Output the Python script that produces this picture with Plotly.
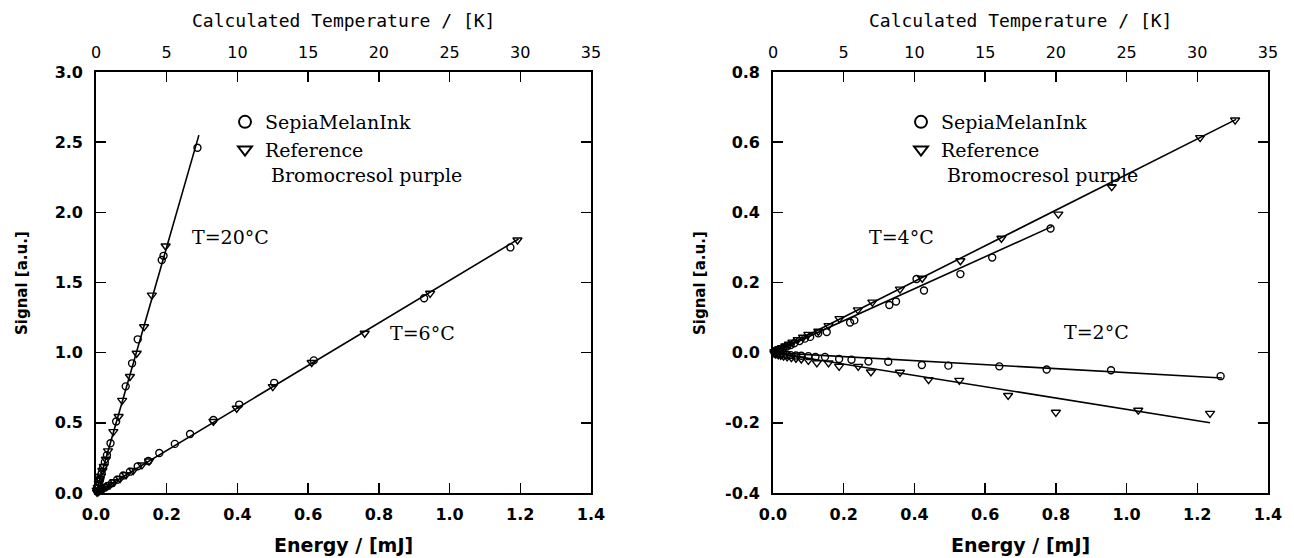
import plotly.graph_objects as go

# ---------------- data ----------------
# Left panel, T = 20 °C
l20_sepia_x = [0.003, 0.006, 0.009, 0.012, 0.016, 0.020, 0.025, 0.031, 0.041, 0.057, 0.084, 0.102, 0.118, 0.186, 0.191, 0.287]
l20_sepia_y = [0.03, 0.05, 0.08, 0.10, 0.14, 0.18, 0.22, 0.27, 0.354, 0.51, 0.76, 0.924, 1.095, 1.66, 1.69, 2.46]
l20_ref_x = [0.002, 0.005, 0.008, 0.011, 0.014, 0.018, 0.022, 0.028, 0.034, 0.049, 0.064, 0.074, 0.096, 0.115, 0.136, 0.158, 0.197]
l20_ref_y = [0.02, 0.04, 0.07, 0.10, 0.12, 0.16, 0.19, 0.24, 0.30, 0.437, 0.545, 0.66, 0.83, 0.996, 1.185, 1.41, 1.76]
l20_fit_x = [0.0, 0.291]
l20_fit_y = [0.0, 2.55]

# Left panel, T = 6 °C
l6_sepia_x = [0.004, 0.008, 0.013, 0.018, 0.025, 0.033, 0.045, 0.060, 0.077, 0.096, 0.118, 0.148, 0.179, 0.223, 0.266, 0.332, 0.405, 0.504, 0.616, 0.928, 1.172]
l6_sepia_y = [0.01, 0.015, 0.025, 0.03, 0.04, 0.05, 0.07, 0.095, 0.125, 0.152, 0.19, 0.228, 0.285, 0.35, 0.42, 0.52, 0.63, 0.785, 0.945, 1.388, 1.75]
l6_ref_x = [0.003, 0.007, 0.011, 0.016, 0.022, 0.030, 0.040, 0.052, 0.068, 0.085, 0.105, 0.130, 0.150, 0.332, 0.398, 0.500, 0.610, 0.760, 0.945, 1.192]
l6_ref_y = [0.005, 0.01, 0.018, 0.025, 0.033, 0.045, 0.06, 0.08, 0.103, 0.13, 0.16, 0.2, 0.228, 0.51, 0.604, 0.758, 0.93, 1.138, 1.423, 1.803]
l6_fit_x = [0.0, 1.195]
l6_fit_y = [0.0, 1.81]

# Right panel, T = 4 °C
r4_sepia_x = [0.005, 0.010, 0.015, 0.020, 0.030, 0.040, 0.050, 0.060, 0.075, 0.090, 0.105, 0.128, 0.152, 0.218, 0.230, 0.329, 0.348, 0.406, 0.427, 0.530, 0.620, 0.785]
r4_sepia_y = [0.004, 0.006, 0.008, 0.010, 0.014, 0.018, 0.022, 0.027, 0.033, 0.040, 0.045, 0.055, 0.059, 0.086, 0.092, 0.136, 0.146, 0.210, 0.177, 0.224, 0.271, 0.354]
r4_ref_x = [0.004, 0.008, 0.013, 0.018, 0.025, 0.035, 0.045, 0.055, 0.070, 0.085, 0.100, 0.128, 0.157, 0.188, 0.240, 0.281, 0.359, 0.422, 0.530, 0.646, 0.807, 0.958, 1.208, 1.307]
r4_ref_y = [0.003, 0.005, 0.008, 0.011, 0.014, 0.019, 0.024, 0.030, 0.037, 0.044, 0.052, 0.061, 0.077, 0.097, 0.122, 0.144, 0.181, 0.212, 0.262, 0.326, 0.395, 0.473, 0.613, 0.663]
r4_sepia_fit_x = [0.0, 0.79]
r4_sepia_fit_y = [0.0, 0.36]
r4_ref_fit_x = [0.0, 1.31]
r4_ref_fit_y = [0.0, 0.665]

# Right panel, T = 2 °C
r2_sepia_x = [0.005, 0.010, 0.020, 0.030, 0.040, 0.050, 0.065, 0.080, 0.100, 0.120, 0.147, 0.187, 0.222, 0.270, 0.326, 0.421, 0.496, 0.640, 0.774, 0.956, 1.266]
r2_sepia_y = [-0.002, -0.003, -0.004, -0.005, -0.006, -0.007, -0.008, -0.009, -0.010, -0.012, -0.012, -0.018, -0.020, -0.025, -0.026, -0.035, -0.037, -0.039, -0.048, -0.050, -0.067]
r2_ref_x = [0.004, 0.008, 0.015, 0.022, 0.030, 0.040, 0.052, 0.065, 0.080, 0.100, 0.124, 0.157, 0.187, 0.241, 0.277, 0.359, 0.440, 0.527, 0.665, 0.800, 1.033, 1.236]
r2_ref_y = [-0.002, -0.004, -0.006, -0.008, -0.010, -0.012, -0.014, -0.016, -0.018, -0.022, -0.029, -0.029, -0.039, -0.039, -0.055, -0.056, -0.077, -0.079, -0.122, -0.170, -0.164, -0.173]
r2_sepia_fit_x = [0.0, 1.27]
r2_sepia_fit_y = [0.0, -0.072]
r2_ref_fit_x = [0.0, 1.236]
r2_ref_fit_y = [0.0, -0.20]

# ticks
energy_ticks = [0.0, 0.2, 0.4, 0.6, 0.8, 1.0, 1.2, 1.4]
energy_labels = ["0.0", "0.2", "0.4", "0.6", "0.8", "1.0", "1.2", "1.4"]
temp_ticks = [0, 5, 10, 15, 20, 25, 30, 35]
temp_labels = ["0", "5", "10", "15", "20", "25", "30", "35"]
left_y_ticks = [0.0, 0.5, 1.0, 1.5, 2.0, 2.5, 3.0]
left_y_labels = ["0.0", "0.5", "1.0", "1.5", "2.0", "2.5", "3.0"]
right_y_ticks = [-0.4, -0.2, 0.0, 0.2, 0.4, 0.6, 0.8]
right_y_labels = ["-0.4", "-0.2", "0.0", "0.2", "0.4", "0.6", "0.8"]

name_sepia = "SepiaMelanInk"
name_ref = "Reference<br>\u00a0Bromocresol purple"

# ---------------- figure ----------------
W, H = 1294, 558
BLACK = "black"
SERIF = "DejaVu Serif"
SANS = "DejaVu Sans"
MONO = "DejaVu Sans Mono"

circle = dict(symbol="circle-open", size=7, color=BLACK, line=dict(width=1.4, color=BLACK))
tri = dict(symbol="triangle-down-open", size=8, color=BLACK, line=dict(width=1.4, color=BLACK))
fit_line = dict(color=BLACK, width=1.6)

fig = go.Figure()


def add_pts(x, y, xa, ya, marker, name, show, legend):
    fig.add_trace(go.Scatter(x=x, y=y, mode="markers", marker=marker, name=name,
                             showlegend=show, legend=legend, xaxis=xa, yaxis=ya,
                             cliponaxis=False))


def add_fit(x, y, xa, ya):
    fig.add_trace(go.Scatter(x=x, y=y, mode="lines", line=fit_line, showlegend=False,
                             xaxis=xa, yaxis=ya, cliponaxis=False, hoverinfo="skip"))


# left panel
add_fit(l20_fit_x, l20_fit_y, "x", "y")
add_fit(l6_fit_x, l6_fit_y, "x", "y")
add_pts(l20_sepia_x, l20_sepia_y, "x", "y", circle, name_sepia, True, "legend")
add_pts(l20_ref_x, l20_ref_y, "x", "y", tri, name_ref, True, "legend")
add_pts(l6_sepia_x, l6_sepia_y, "x", "y", circle, name_sepia, False, "legend")
add_pts(l6_ref_x, l6_ref_y, "x", "y", tri, name_ref, False, "legend")

# right panel
add_fit(r4_sepia_fit_x, r4_sepia_fit_y, "x2", "y2")
add_fit(r4_ref_fit_x, r4_ref_fit_y, "x2", "y2")
add_fit(r2_sepia_fit_x, r2_sepia_fit_y, "x2", "y2")
add_fit(r2_ref_fit_x, r2_ref_fit_y, "x2", "y2")
add_pts(r4_sepia_x, r4_sepia_y, "x2", "y2", circle, name_sepia, True, "legend2")
add_pts(r4_ref_x, r4_ref_y, "x2", "y2", tri, name_ref, True, "legend2")
add_pts(r2_sepia_x, r2_sepia_y, "x2", "y2", circle, name_sepia, False, "legend2")
add_pts(r2_ref_x, r2_ref_y, "x2", "y2", tri, name_ref, False, "legend2")

# helper traces so the top temperature axes exist
for xa, ya in (("x3", "y"), ("x4", "y2")):
    fig.add_trace(go.Scatter(x=temp_ticks, y=[None] * len(temp_ticks), mode="markers",
                             showlegend=False, xaxis=xa, yaxis=ya, hoverinfo="skip"))

# geometry (pixels -> paper)
L_x0, L_x1 = 96, 591
R_x0, R_x1 = 773, 1268
Y_top, Y_bot = 72, 493
dom_left = [L_x0 / W, L_x1 / W]
dom_right = [R_x0 / W, R_x1 / W]
dom_y = [1 - Y_bot / H, 1 - Y_top / H]

tickfont = dict(family=SANS, size=16, color=BLACK, weight="bold")
topfont = dict(family=SANS, size=16, color=BLACK)

common_ax = dict(showgrid=False, zeroline=False, showline=True, linecolor=BLACK, linewidth=1.8,
                 ticks="inside", ticklen=10, tickwidth=1.5, tickcolor=BLACK, automargin=False)

xbottom = dict(common_ax, range=[0, 1.4], tickvals=energy_ticks, ticktext=energy_labels,
               tickfont=tickfont, mirror=True, ticklabelstandoff=6)
xtop = dict(common_ax, range=[0, 35], tickvals=temp_ticks, ticktext=temp_labels,
            tickfont=topfont, side="top", ticklabelstandoff=6)

legend_common = dict(xanchor="left", yanchor="top",
                     font=dict(family=SERIF, size=19, color=BLACK), bgcolor="rgba(0,0,0,0)",
                     valign="top", tracegroupgap=0, itemsizing="constant")

fig.update_layout(
    width=W, height=H,
    margin=dict(l=0, r=0, t=0, b=0, autoexpand=False),
    paper_bgcolor="white", plot_bgcolor="white",
    showlegend=True,
    hovermode=False,
    xaxis=dict(xbottom, domain=dom_left, anchor="y"),
    xaxis2=dict(xbottom, domain=dom_right, anchor="y2"),
    xaxis3=dict(xtop, overlaying="x", anchor="y"),
    xaxis4=dict(xtop, overlaying="x2", anchor="y2"),
    yaxis=dict(common_ax, domain=dom_y, anchor="x", range=[0, 3], tickvals=left_y_ticks,
               ticktext=left_y_labels, tickfont=tickfont, mirror="ticks", ticklabelstandoff=8),
    yaxis2=dict(common_ax, domain=dom_y, anchor="x2", range=[-0.4, 0.8], tickvals=right_y_ticks,
                ticktext=right_y_labels, tickfont=tickfont, mirror="ticks", ticklabelstandoff=8),
    legend=dict(legend_common, x=225 / W, y=1 - 103 / H),
    legend2=dict(legend_common, x=901 / W, y=1 - 103 / H),
)

ann = []
title_font = dict(family=MONO, size=18, color=BLACK)
bold_font = dict(family=SANS, size=19, color=BLACK, weight="bold")
for cx in ((L_x0 + L_x1) / 2, (R_x0 + R_x1) / 2):
    ann.append(dict(text="Calculated Temperature / [K]", x=cx / W, y=1 - 20 / H, xref="paper", yref="paper",
                    showarrow=False, font=title_font, xanchor="center", yanchor="middle"))
    ann.append(dict(text="Energy / [mJ]", x=cx / W, y=1 - 545 / H, xref="paper", yref="paper",
                    showarrow=False, font=bold_font, xanchor="center", yanchor="middle"))
for sx in (22, 700):
    ann.append(dict(text="Signal [a.u.]", x=sx / W, y=1 - 283 / H, xref="paper", yref="paper",
                    showarrow=False, font=dict(family=SANS, size=15, color=BLACK, weight="bold"),
                    textangle=-90, xanchor="center", yanchor="middle"))

tfont = dict(family=SERIF, size=19, color=BLACK)
ann.append(dict(text="T=20°C", x=0.266, y=1.825, xref="x", yref="y", showarrow=False,
                font=tfont, xanchor="left", yanchor="middle"))
ann.append(dict(text="T=6°C", x=0.826, y=1.14, xref="x", yref="y", showarrow=False,
                font=tfont, xanchor="left", yanchor="middle"))
ann.append(dict(text="T=4°C", x=0.265, y=0.331, xref="x2", yref="y2", showarrow=False,
                font=tfont, xanchor="left", yanchor="middle"))
ann.append(dict(text="T=2°C", x=0.817, y=0.058, xref="x2", yref="y2", showarrow=False,
                font=tfont, xanchor="left", yanchor="middle"))
fig.update_layout(annotations=ann)

# remove the default 8px page margin so the figure fills the window exactly
fig.write_html("out.html", config={"displayModeBar": False, "staticPlot": True},
               post_script="document.body.style.margin='0';document.body.style.overflow='hidden';")
